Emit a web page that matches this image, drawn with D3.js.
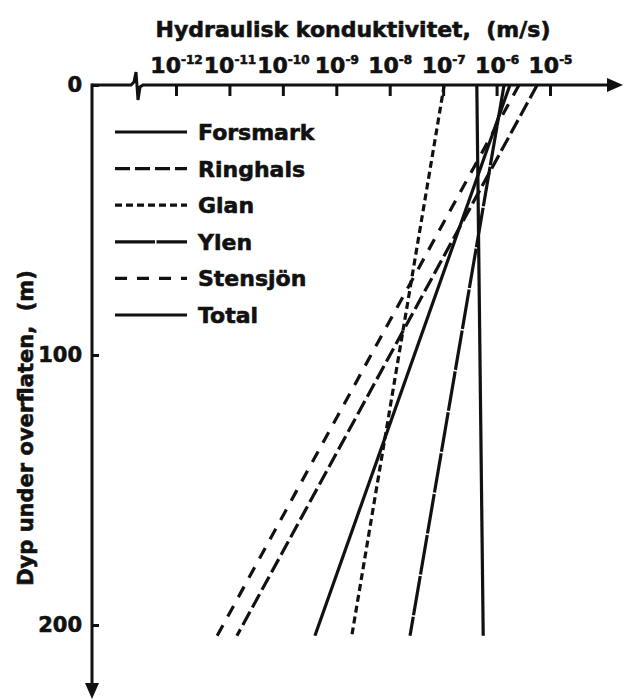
<!DOCTYPE html>
<html>
<head>
<meta charset="utf-8">
<script src="https://cdn.jsdelivr.net/npm/d3@7"></script>
<style>
  body { margin: 0; background: #fff; }
  svg text { font-family: "DejaVu Sans", "Liberation Sans", sans-serif; font-weight: bold; fill: #111;
             stroke: #111; stroke-width: 0.6px; paint-order: stroke; }
</style>
</head>
<body>
<svg id="chart" width="624" height="699"></svg>
<script>
// data (log10 of K in m/s at the surface and at the bottom of each line)
const seriesNames = ["Forsmark", "Ringhals", "Glan", "Ylen", "Stensjön", "Total"];
const logKTop = [-5.75, -5.24, -6.98, -5.86, -5.58, -6.37];
const logKBottom = [-9.40, -10.86, -8.71, -7.62, -11.23, -6.25];
const depthEnds = [0, 204];
const xTickExponents = [-12, -11, -10, -9, -8, -7, -6, -5];
const yTickValues = [0, 100, 200];

const dashes = {
  "Forsmark": null,
  "Ringhals": "15,5",
  "Glan": "7,4",
  "Ylen": "40,1.5",
  "Stensjön": "12,10",
  "Total": null
};

const svg = d3.select("#chart");
const ink = "#111";

// scales
const x = d3.scaleLog()
    .domain([1e-12, 1e-5])
    .range([176, 550]);

const y = d3.scaleLinear()
    .domain([0, 200])
    .range([85, 625]);

const x0 = 92;           // where the depth axis sits
const xEnd = 623;        // arrow tip on the K axis
const yEnd = 699;        // arrow tip on the depth axis

// title
svg.append("text")
    .attr("x", 353)
    .attr("y", 37)
    .attr("text-anchor", "middle")
    .style("font-size", "22px")
    .text("Hydraulisk konduktivitet,\u00a0\u00a0(m/s)");

// y label
svg.append("text")
    .attr("transform", "translate(33, 428) rotate(-90)")
    .attr("text-anchor", "middle")
    .style("font-size", "21px")
    .text("Dyp under overflaten,\u00a0\u00a0(m)");

// top axis, ticks pointing down into the plot
const xAxis = d3.axisTop(x)
    .tickValues(xTickExponents.map(e => Math.pow(10, e)))
    .tickSizeInner(-11)
    .tickSizeOuter(0)
    .tickPadding(12);

const gx = svg.append("g")
    .attr("transform", `translate(0, ${y(0)})`)
    .call(xAxis);
gx.select(".domain").remove();
gx.selectAll(".tick line")
    .attr("stroke", ink)
    .attr("stroke-width", 3);
gx.selectAll(".tick text")
    .attr("fill", ink)
    .style("font-size", "22px")
    .style("font-family", "DejaVu Sans")
    .attr("dy", 0)
    .text(null)
    .each(function (d) {
        const t = d3.select(this);
        t.append("tspan").text("10");
        t.append("tspan")
            .attr("dy", -9)
            .style("font-size", "12px")
            .text(Math.round(Math.log10(d)));
    });

// left axis, ticks pointing right
const yAxis = d3.axisLeft(y)
    .tickValues(yTickValues)
    .tickSizeInner(-7)
    .tickSizeOuter(0)
    .tickPadding(10)
    .tickFormat(d3.format("d"));

const gy = svg.append("g")
    .attr("transform", `translate(${x0}, 0)`)
    .call(yAxis);
gy.select(".domain").remove();
gy.selectAll(".tick line")
    .attr("stroke", ink)
    .attr("stroke-width", 3);
gy.selectAll(".tick text")
    .attr("fill", ink)
    .style("font-size", "21px")
    .style("font-family", "DejaVu Sans");

// axis lines with break mark and arrows
svg.append("path")
    .attr("d", `M${x0},${y(0)} L131,${y(0)} L134,${y(0) - 3} L136,${y(0) - 13} L138,${y(0) + 15} L140,${y(0) + 2} L143,${y(0)} L${xEnd - 12},${y(0)}`)
    .attr("fill", "none")
    .attr("stroke", ink)
    .attr("stroke-width", 3);

svg.append("path")
    .attr("d", `M${x0},${y(0) - 1.5} L${x0},${yEnd - 12}`)
    .attr("fill", "none")
    .attr("stroke", ink)
    .attr("stroke-width", 3);

svg.append("path")
    .attr("d", `M${xEnd - 16},${y(0) - 7} L${xEnd},${y(0)} L${xEnd - 16},${y(0) + 7} Z`)
    .attr("fill", ink);

svg.append("path")
    .attr("d", `M${x0 - 7},${yEnd - 16} L${x0},${yEnd} L${x0 + 7},${yEnd - 16} Z`)
    .attr("fill", ink);

// series lines
const series = seriesNames.map((name, i) => ({
    name: name,
    pts: [
        { depth: depthEnds[0], k: Math.pow(10, logKTop[i]) },
        { depth: depthEnds[1], k: Math.pow(10, logKBottom[i]) }
    ]
}));

const line = d3.line()
    .x(d => x(d.k))
    .y(d => y(d.depth));

svg.append("g")
    .selectAll("path")
    .data(series)
    .enter()
    .append("path")
    .attr("d", d => line(d.pts))
    .attr("fill", "none")
    .attr("stroke", ink)
    .attr("stroke-width", 3.2)
    .attr("stroke-dasharray", d => dashes[d.name]);

// legend
const legend = svg.append("g")
    .selectAll("g")
    .data(seriesNames)
    .enter()
    .append("g")
    .attr("transform", (d, i) => `translate(115, ${132 + i * 36.6})`);

legend.append("line")
    .attr("x1", 0)
    .attr("x2", 72)
    .attr("stroke", ink)
    .attr("stroke-width", 3.2)
    .attr("stroke-dasharray", d => dashes[d]);

legend.append("text")
    .attr("x", 83)
    .attr("y", 8)
    .style("font-size", "22px")
    .text(d => d);
</script>
</body>
</html>
